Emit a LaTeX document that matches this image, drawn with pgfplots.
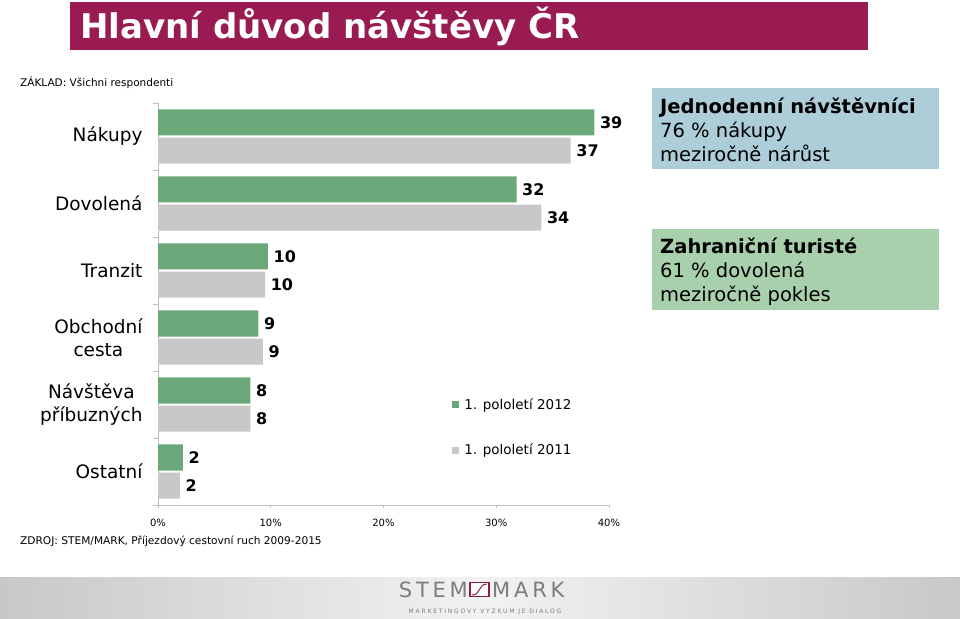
\documentclass[border=0pt]{standalone}
\usepackage{fontspec}
\setmainfont{DejaVu Sans}
\usepackage{pgfplots}
\pgfplotsset{compat=1.18}
\usepackage{xcolor}

\definecolor{titleMag}{RGB}{153,27,82}
\definecolor{barGreen}{RGB}{106,168,122}
\definecolor{barGray}{RGB}{200,200,200}
\definecolor{boxBlue}{RGB}{173,205,216}
\definecolor{boxGreen}{RGB}{169,208,172}
\definecolor{axisGray}{RGB}{190,190,190}
\definecolor{logoRed}{RGB}{140,30,60}
\definecolor{logoGray}{RGB}{125,125,125}
\definecolor{bandSide}{RGB}{200,200,200}
\definecolor{bandMid}{RGB}{242,242,242}

\newcommand\fs[2]{\fontsize{#1}{#2}\selectfont}

\begin{document}
\begin{tikzpicture}
\fill[white] (0pt,0pt) rectangle (960pt,-618pt);
\useasboundingbox (0pt,0pt) rectangle (960pt,-618pt);

% title banner
\fill[titleMag] (70pt,-2pt) rectangle (868pt,-50pt);
\node[anchor=base west, inner sep=0pt, text=white, font=\bfseries\fs{34}{40}] at (80pt,-38pt) {Hlavní důvod návštěvy ČR};

\node[anchor=base west, inner sep=0pt, font=\fs{10.5}{13}] at (20pt,-86pt) {ZÁKLAD: Všichni respondenti};

% info boxes
\fill[boxBlue] (652pt,-88pt) rectangle (939pt,-169pt);
\node[anchor=base west, inner sep=0pt, font=\bfseries\fs{19.5}{24}] at (660pt,-113pt) {Jednodenní návštěvníci};
\node[anchor=base west, inner sep=0pt, font=\fs{19.5}{24}] at (660pt,-137pt) {76 \% nákupy};
\node[anchor=base west, inner sep=0pt, font=\fs{19.5}{24}] at (660pt,-161pt) {meziročně nárůst};

\fill[boxGreen] (652pt,-229pt) rectangle (939pt,-310pt);
\node[anchor=base west, inner sep=0pt, font=\bfseries\fs{19.5}{24}] at (660pt,-253pt) {Zahraniční turisté};
\node[anchor=base west, inner sep=0pt, font=\fs{19.5}{24}] at (660pt,-277pt) {61 \% dovolená};
\node[anchor=base west, inner sep=0pt, font=\fs{19.5}{24}] at (660pt,-301pt) {meziročně pokles};

\begin{axis}[
  at={(158pt,-505pt)}, anchor=south west,
  scale only axis, width=451pt, height=402pt,
  xmin=0, xmax=40, ymin=-0.5, ymax=5.5,
  xbar, bar width=0.39,
  axis x line*=bottom, axis y line*=left,
  axis line style={draw=axisGray, line width=0.75pt, -},
  xtick={0,10,20,30,40},
  xticklabel={\pgfmathprintnumber{\tick}\%},
  /pgf/number format/assume math mode=true,
  x tick label style={font=\fs{10}{12}, yshift=-8pt},
  ytick={0,...,5},
  yticklabels={Ostatní,{Návštěva\\příbuzných},{Obchodní\\cesta},Tranzit,Dovolená,Nákupy},
  y tick label style={font=\fs{18.5}{23}, align=center, xshift=-9pt},
  minor ytick={-0.5,0.5,...,5.5},
  tick align=outside,
  major tick length=3pt, minor tick length=5pt,
  xtick style={draw=axisGray, line width=0.75pt},
  major y tick style={draw=none},
  minor y tick style={draw=axisGray, line width=0.75pt},
  legend style={at={(0.652,0.27)}, anchor=north west, draw=none, fill=none,
    font=\fs{13.5}{16}, row sep=29pt, inner sep=0pt,
    /tikz/every odd column/.append style={column sep=3pt}},
  legend cell align=left,
  legend image code/.code={\draw[#1,draw=none] (0pt,-3.5pt) rectangle (7pt,3.5pt);},
  nodes near coords,
  point meta=explicit symbolic,
  nodes near coords style={font=\bfseries\fs{16}{16}, anchor=west, inner xsep=5.5pt, inner ysep=0pt, text=black},
]
\addplot[fill=barGreen, draw=none, bar shift=0.21]
  coordinates {(38.7,5)[39] (31.8,4)[32] (9.75,3)[10] (8.9,2)[9] (8.2,1)[8] (2.2,0)[2]};
\addlegendentry{1. pololetí 2012}
\addplot[fill=barGray, draw=none, bar shift=-0.21]
  coordinates {(36.6,5)[37] (34.0,4)[34] (9.5,3)[10] (9.3,2)[9] (8.2,1)[8] (1.95,0)[2]};
\addlegendentry{1. pololetí 2011}
\end{axis}

\node[anchor=base west, inner sep=0pt, font=\fs{10.6}{13}] at (20pt,-544pt) {ZDROJ: STEM/MARK, Příjezdový cestovní ruch 2009-2015};

% logo band
\shade[left color=bandSide, right color=bandMid] (0pt,-577pt) rectangle (485pt,-618pt);
\shade[left color=bandMid, right color=bandSide] (485pt,-577pt) rectangle (960pt,-618pt);
\node[anchor=base east, inner sep=0pt, text=logoGray, font=\fs{21}{22}\addfontfeatures{LetterSpace=18}] at (468pt,-597pt) {STEM};
\draw[logoRed, line width=1.6pt, fill=white] (470pt,-582.5pt) rectangle (489pt,-596.5pt);
\draw[logoRed, line width=1pt] (472pt,-595pt) .. controls (481pt,-595pt) and (478pt,-584pt) .. (487pt,-584pt);
\node[anchor=base west, inner sep=0pt, text=logoGray, font=\fs{21}{22}\addfontfeatures{LetterSpace=18}] at (492pt,-597pt) {MARK};
\node[anchor=base, inner sep=0pt, text=logoGray, font=\fs{6}{7}\addfontfeatures{LetterSpace=30}] at (485pt,-613pt) {MARKETINGOVÝ VÝZKUM JE DIALOG};
\end{tikzpicture}
\end{document}
